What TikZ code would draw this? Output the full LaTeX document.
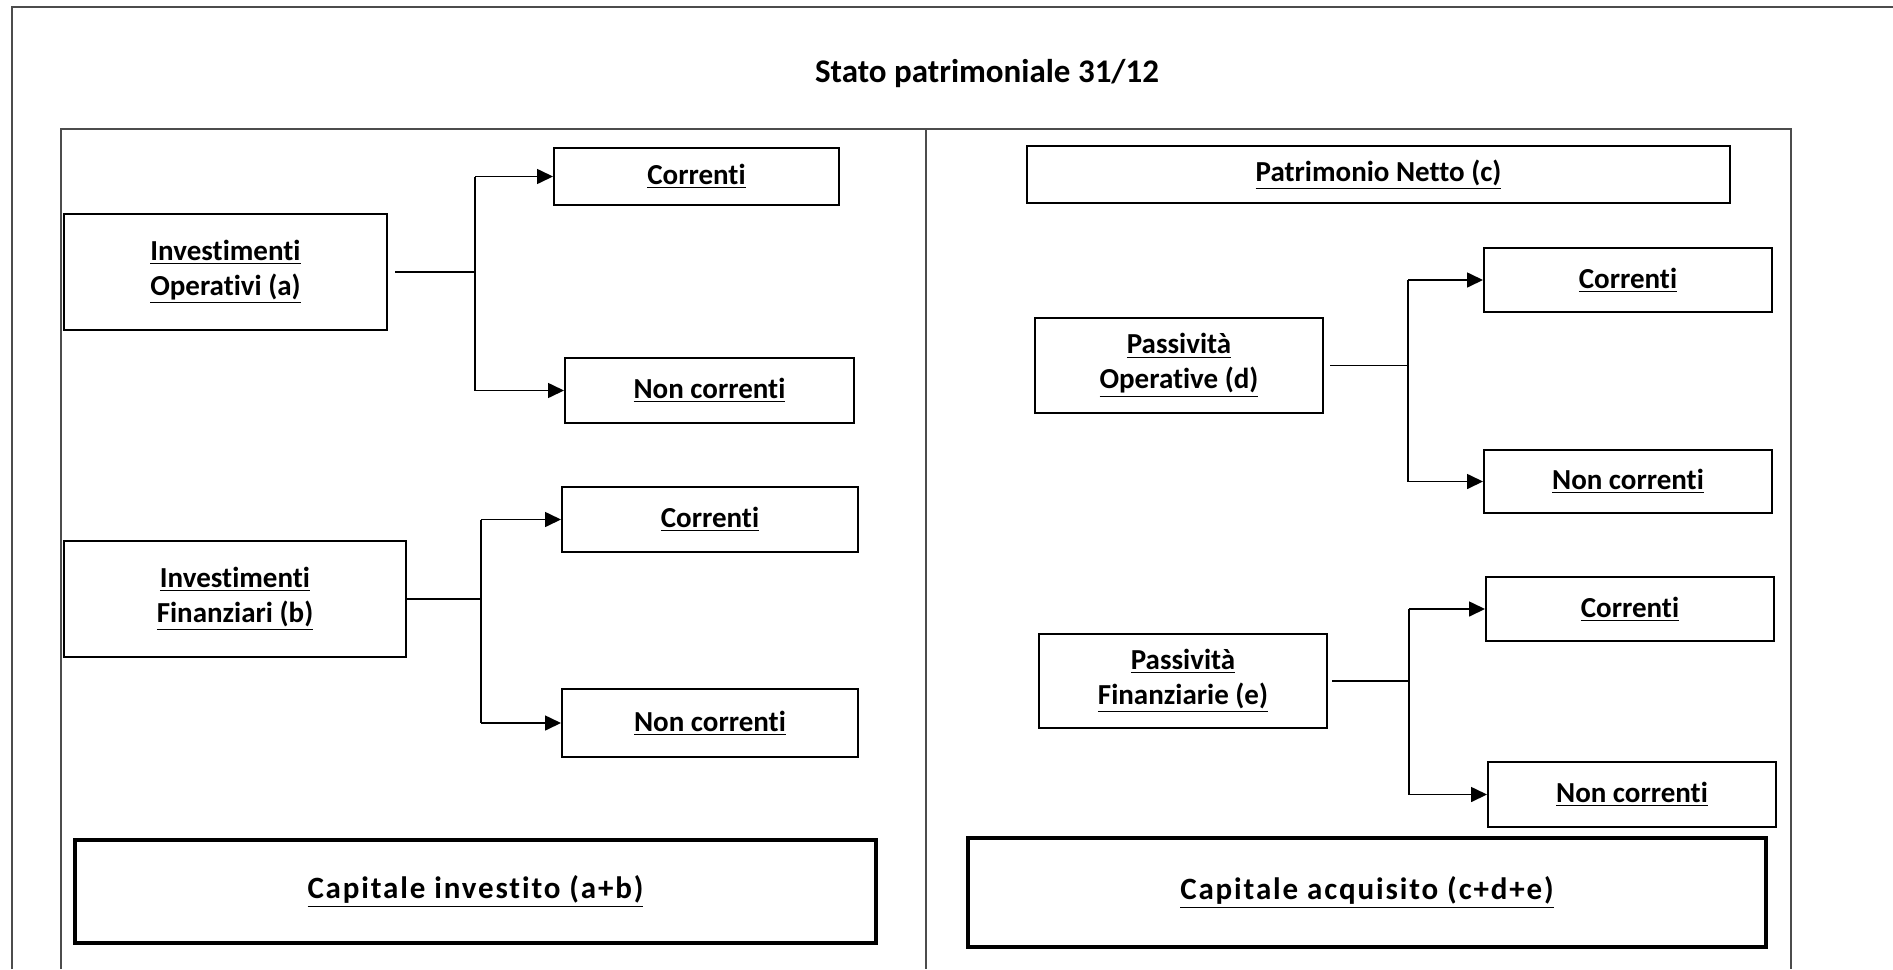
\documentclass[tikz,border=0pt]{standalone}
\usepackage{fontspec}
\setmainfont{Carlito}[Ligatures=NoCommon]
\newfontfamily\largofont[LetterSpace=6, Ligatures=NoCommon]{Carlito}
\usetikzlibrary{arrows.meta}

\begin{document}
\begin{tikzpicture}[x=0.5pt, y=-0.5pt,
	voce/.style={draw, line width=1pt, align=center, inner sep=0pt, font=\bfseries\fontsize{14.5}{17.5}\selectfont},
	totale/.style={draw, line width=1.8pt, inner sep=0pt, font=\largofont\bfseries\fontsize{15.5}{18}\selectfont},
	cornice/.style={draw=black!70, line width=0.8pt},
	filo/.style={line width=0.8pt},
	freccia/.style={filo, -{Triangle[length=8pt, width=7.5pt]}}]
	\useasboundingbox (0, 0) rectangle (1893, 969);
	\draw[cornice] (12, 969) -- (12, 7) -- (1893, 7);
	\draw[cornice] (61, 969) -- (61, 129) -- (1791, 129) -- (1791, 969);
	\draw[cornice] (926, 129) -- (926, 969);
	\node[anchor=base, font=\bfseries\fontsize{16.5}{20}\selectfont] (titolo) at (987, 82) {Stato patrimoniale 31/12};

	\node[voce, minimum width=161.5pt, minimum height=58pt] (invop) at (225.5, 272) {\underline{Investimenti}\\\underline{Operativi (a)}};
	\node[voce, minimum width=142.5pt, minimum height=28.5pt] (corr1) at (696.5, 176.5) {\underline{Correnti}};
	\node[voce, minimum width=144.5pt, minimum height=32.5pt] (ncorr1) at (709.5, 390.5) {\underline{Non correnti}};
	\node[voce, minimum width=171pt, minimum height=58pt] (invfin) at (235, 599) {\underline{Investimenti}\\\underline{Finanziari (b)}};
	\node[voce, minimum width=148pt, minimum height=32.5pt] (corr2) at (710, 519.5) {\underline{Correnti}};
	\node[voce, minimum width=148pt, minimum height=34pt] (ncorr2) at (710, 723) {\underline{Non correnti}};
	\node[totale, minimum width=400.5pt, minimum height=51.5pt] (capinv) at (475.5, 891.5) {\underline{Capitale investito (a+b)}};

	\node[voce, minimum width=351.5pt, minimum height=28.5pt] (patnet) at (1378.5, 174.5) {\underline{Patrimonio Netto (c)}};
	\node[voce, minimum width=144pt, minimum height=47.5pt] (passop) at (1179, 365.5) {\underline{Passività}\\\underline{Operative (d)}};
	\node[voce, minimum width=144pt, minimum height=32pt] (corr3) at (1628, 280) {\underline{Correnti}};
	\node[voce, minimum width=144pt, minimum height=31.5pt] (ncorr3) at (1628, 481.5) {\underline{Non correnti}};
	\node[voce, minimum width=144pt, minimum height=47pt] (passfin) at (1183, 681) {\underline{Passività}\\\underline{Finanziarie (e)}};
	\node[voce, minimum width=144pt, minimum height=32pt] (corr4) at (1630, 609) {\underline{Correnti}};
	\node[voce, minimum width=144pt, minimum height=32.5pt] (ncorr4) at (1632, 794.5) {\underline{Non correnti}};
	\node[totale, minimum width=399pt, minimum height=54.5pt] (capacq) at (1367, 892.5) {\underline{Capitale acquisito (c+d+e)}};

	\coordinate (ja) at (475, 272);
	\coordinate (jb) at (481, 599);
	\coordinate (jd) at (1408, 365.5);
	\coordinate (je) at (1409, 681);

	\draw[filo] ([xshift=3.5pt]invop.east) -- (ja);
	\draw[filo] (ja |- corr1.west) -- (ja |- ncorr1.west);
	\draw[freccia] (ja |- corr1.west) -- (corr1.west);
	\draw[freccia] (ja |- ncorr1.west) -- (ncorr1.west);

	\draw[filo] (invfin.east) -- (jb);
	\draw[filo] (jb |- corr2.west) -- (jb |- ncorr2.west);
	\draw[freccia] (jb |- corr2.west) -- (corr2.west);
	\draw[freccia] (jb |- ncorr2.west) -- (ncorr2.west);

	\draw[filo] ([xshift=3pt]passop.east) -- (jd);
	\draw[filo] (jd |- corr3.west) -- (jd |- ncorr3.west);
	\draw[freccia] (jd |- corr3.west) -- (corr3.west);
	\draw[freccia] (jd |- ncorr3.west) -- (ncorr3.west);

	\draw[filo] ([xshift=2pt]passfin.east) -- (je);
	\draw[filo] (je |- corr4.west) -- (je |- ncorr4.west);
	\draw[freccia] (je |- corr4.west) -- (corr4.west);
	\draw[freccia] (je |- ncorr4.west) -- (ncorr4.west);
\end{tikzpicture}
\end{document}
